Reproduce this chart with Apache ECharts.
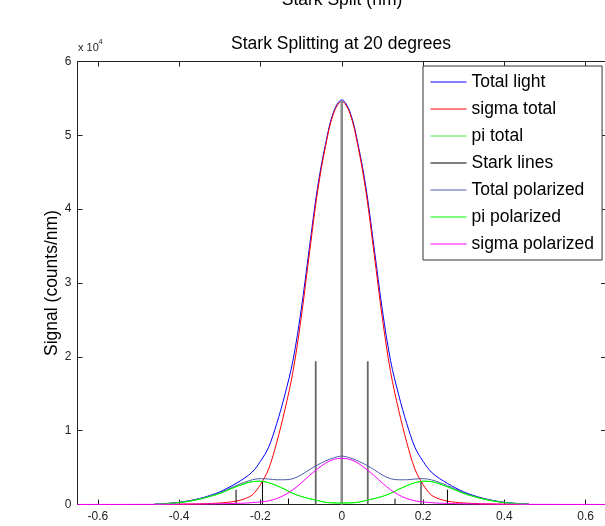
<!DOCTYPE html>
<html>
<head>
<meta charset="utf-8">
<script src="https://cdn.jsdelivr.net/npm/echarts@6/dist/echarts.min.js"></script>
<style>
html,body{margin:0;padding:0;background:#fff;}
#chart{width:605px;height:526px;}
</style>
</head>
<body>
<div id="chart"></div>
<script>
// ---- data (counts/nm) ----
const xVals = [-0.46,-0.44,-0.42,-0.40,-0.38,-0.36,-0.34,-0.32,-0.30,-0.28,-0.26,-0.24,-0.22,-0.20,-0.18,-0.16,-0.14,-0.12,-0.10,-0.08,-0.06,-0.04,-0.02,0,
  0.02,0.04,0.06,0.08,0.10,0.12,0.14,0.16,0.18,0.20,0.22,0.24,0.26,0.28,0.30,0.32,0.34,0.36,0.38,0.40,0.42,0.44,0.46];
const totalLight = [50,100,180,290,460,680,950,1300,1700,2250,2850,3550,4400,5850,7750,10950,14850,19500,26300,34600,42750,48800,53200,54800,
  53200,48800,42750,34600,26300,19500,14850,10950,7750,5850,4400,3550,2850,2250,1700,1300,950,680,460,290,180,100,50];
const sigmaTotal = [10,20,30,40,60,80,100,150,200,300,450,750,1300,2700,4800,8400,12800,18000,25200,33800,42200,48500,53000,54600,
  53000,48500,42200,33800,25200,18000,12800,8400,4800,2700,1300,750,450,300,200,150,100,80,60,40,30,20,10];
const piTotal = [40,80,150,250,400,600,850,1150,1500,1950,2400,2800,3100,3150,2950,2550,2050,1500,1100,800,550,300,220,200,
  220,300,550,800,1100,1500,2050,2550,2950,3150,3100,2800,2400,1950,1500,1150,850,600,400,250,150,80,40];
const totalPol = [60,110,180,290,450,660,920,1230,1600,2070,2550,2980,3350,3500,3450,3350,3350,3500,4000,4700,5350,5900,6320,6550,
  6320,5900,5350,4700,4000,3500,3350,3350,3450,3500,3350,2980,2550,2070,1600,1230,920,660,450,290,180,110,60];
const piPol = [40,80,150,250,400,600,850,1150,1500,1950,2400,2800,3100,3150,2950,2550,2050,1500,1100,800,550,300,220,200,
  220,300,550,800,1100,1500,2050,2550,2950,3150,3100,2800,2400,1950,1500,1150,850,600,400,250,150,80,40];
const sigmaPolX = [-0.65,-0.60,-0.55,-0.50,-0.46,-0.44,-0.42,-0.40,-0.38,-0.36,-0.34,-0.32,-0.30,-0.28,-0.26,-0.24,-0.22,-0.20,-0.18,-0.16,-0.14,-0.12,-0.10,-0.08,-0.06,-0.04,-0.02,0,
  0.02,0.04,0.06,0.08,0.10,0.12,0.14,0.16,0.18,0.20,0.22,0.24,0.26,0.28,0.30,0.32,0.34,0.36,0.38,0.40,0.42,0.44,0.46,0.50,0.55,0.60,0.65];
const sigmaPol = [5,10,10,15,20,30,30,40,50,60,70,80,100,120,150,180,250,350,500,800,1300,2000,2900,3900,4800,5600,6100,6260,
  6100,5600,4800,3900,2900,2000,1300,800,500,350,250,180,150,120,100,80,70,60,50,40,30,30,20,15,10,10,5];
const starkX = [-0.26,-0.195,-0.131,-0.064,0,0.064,0.131,0.195,0.26];
const starkH = [2000,3100,800,19400,54700,19400,800,3100,2000];
const xTicks = [-0.6,-0.4,-0.2,0,0.2,0.4,0.6];
const yTicks = [0,1,2,3,4,5,6];
const seriesNames = ['Total light','sigma total','pi total','Stark lines','Total polarized','pi polarized','sigma polarized'];

// ---- chart ----
const FONT = "'Liberation Sans', Arial, Helvetica, sans-serif";
const chart = echarts.init(document.getElementById('chart'), null, {renderer:'canvas'});
const pair = (xs, ys) => xs.map((x, i) => [x, ys[i]]);

function curve(name, xs, ys, color) {
  return {
    name, type:'line', data: pair(xs, ys), symbol:'none', smooth:0.35,
    lineStyle:{color, width:1}, itemStyle:{color},
    emphasis:{disabled:true}
  };
}

const starkSeries = starkX.map((x, i) => {
  const h = starkH[i];
  const big = h > 50000, mid = h > 10000 && !big;
  const color = big ? '#8a8a8a' : (mid ? '#666666' : '#000000');
  const width = big ? 2.5 : (mid ? 1.8 : 1);
  return {
    name:'Stark lines', type:'line', data:[[x,0],[x,h]], symbol:'none',
    lineStyle:{color, width}, itemStyle:{color}, emphasis:{disabled:true}
  };
});

const axisLine = {show:true, onZero:false, lineStyle:{color:'#222', width:1}};
const option = {
  animation:false,
  backgroundColor:'#ffffff',
  textStyle:{fontFamily:FONT},
  grid:{left:77.5, top:61.5, width:528.5, bottom:21.5, containLabel:false, outerBoundsMode:'none'},
  legend:{
    orient:'vertical', left:423, top:66,
    data:seriesNames,
    itemWidth:36, itemHeight:14, itemGap:9,
    padding:[7,8,7,7],
    itemStyle:{opacity:0},
    lineStyle:{width:1},
    backgroundColor:'#ffffff', borderColor:'#333', borderWidth:1, borderRadius:0,
    textStyle:{fontFamily:FONT, fontSize:17.5, color:'#000'},
    selectedMode:false
  },
  xAxis:[
    {type:'value', min:-0.65, max:0.65, position:'bottom',
     axisLine, splitLine:{show:false},
     axisTick:{show:true, inside:true, length:5, customValues:xTicks, lineStyle:{color:'#222'}},
     axisLabel:{show:true, customValues:xTicks, margin:6, fontSize:12, color:'#222', fontFamily:FONT,
       formatter:v => (Math.abs(v) < 1e-9 ? '0' : v.toFixed(1))}},
    {type:'value', min:-0.65, max:0.65, position:'top',
     axisLine, splitLine:{show:false},
     axisTick:{show:true, inside:true, length:5, customValues:xTicks, lineStyle:{color:'#222'}},
     axisLabel:{show:false}}
  ],
  yAxis:[
    {type:'value', min:0, max:60000, interval:10000, position:'left',
     axisLine, splitLine:{show:false},
     axisTick:{show:true, inside:true, length:5, lineStyle:{color:'#222'}},
     axisLabel:{show:true, margin:6, fontSize:12, color:'#222', fontFamily:FONT,
       formatter:v => String(yTicks[Math.round(v/10000)])}},
    {type:'value', min:0, max:60000, interval:10000, position:'right',
     axisLine, splitLine:{show:false},
     axisTick:{show:true, inside:true, length:5, lineStyle:{color:'#222'}},
     axisLabel:{show:false}}
  ],
  series:[
    curve('Total light', xVals, totalLight, '#0000ff'),
    curve('sigma total', xVals, sigmaTotal, '#ff0000'),
    curve('pi total', xVals, piTotal, '#44ee44'),
    ...starkSeries,
    curve('Total polarized', xVals, totalPol, '#4b5da8'),
    curve('pi polarized', xVals, piPol, '#00ff00'),
    curve('sigma polarized', sigmaPolX, sigmaPol, '#ff00ff')
  ],
  graphic:[
    {type:'text', x:342, y:0, style:{text:'Stark Split (nm)', fontSize:17.5, fontFamily:FONT, fill:'#000', align:'center', verticalAlign:'middle'}},
    {type:'text', x:341, y:44, style:{text:'Stark Splitting at 20 degrees', fontSize:17.5, fontFamily:FONT, fill:'#000', align:'center', verticalAlign:'middle'}},
    {type:'text', x:78, y:48, style:{text:'x 10', fontSize:11, fontFamily:FONT, fill:'#222', align:'left', verticalAlign:'middle'}},
    {type:'text', x:98.5, y:42, style:{text:'4', fontSize:7.5, fontFamily:FONT, fill:'#222', align:'left', verticalAlign:'middle'}},
    {type:'text', x:52, y:283, rotation:Math.PI/2, style:{text:'Signal (counts/nm)', fontSize:17.5, fontFamily:FONT, fill:'#000', align:'center', verticalAlign:'middle'}}
  ]
};
chart.setOption(option);
</script>
</body>
</html>
